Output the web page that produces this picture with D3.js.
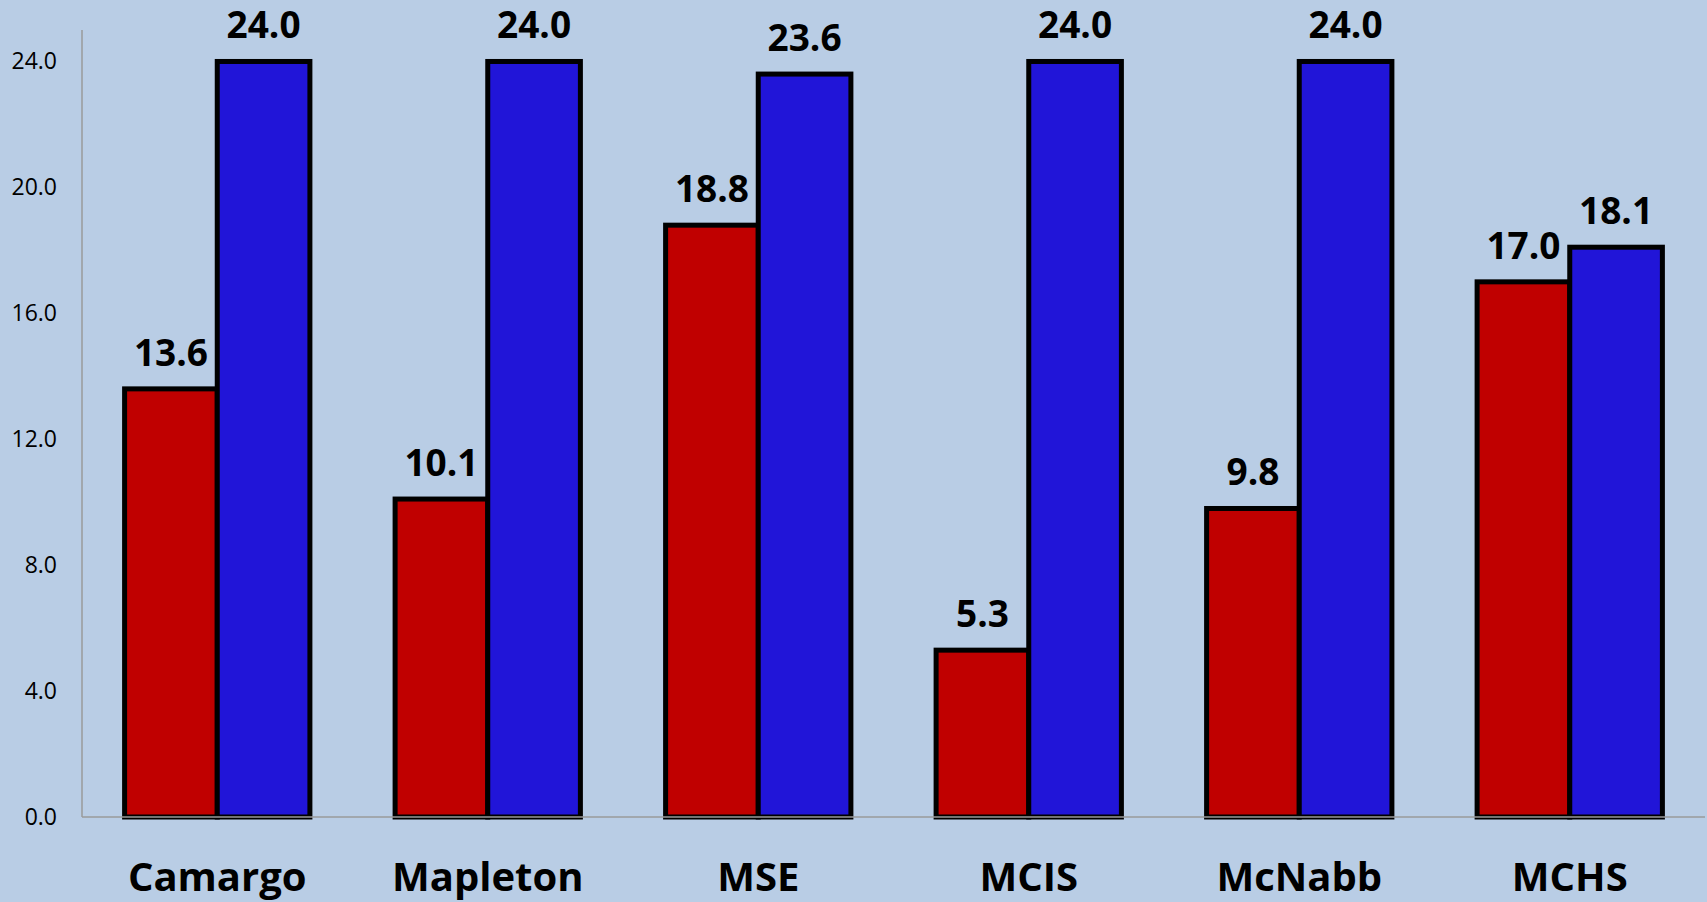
<!DOCTYPE html>
<html>
<head>
    <meta charset="utf-8">
    <title>School comparison</title>
    <style type="text/css">
        body { margin: 0; background: #b9cde5; overflow: hidden; }
        .yaxis path, .yaxis line { display: none; }
        .yaxis text { font-family: "Open Sans", sans-serif; font-size: 23px; fill: #000; }
        .bar { stroke: #000; stroke-width: 5px; }
        .vlabel { font-family: "Open Sans", sans-serif; font-weight: bold; font-size: 37px; text-anchor: middle; }
        .clabel { font-family: "Open Sans", sans-serif; font-weight: bold; font-size: 40px; text-anchor: middle; }
    </style>
</head>
<body>
    <script src="https://d3js.org/d3.v7.min.js"></script>
    <script>
        // chart data
        var categories = ["Camargo", "Mapleton", "MSE", "MCIS", "McNabb", "MCHS"];
        var redValues  = [13.6, 10.1, 18.8, 5.3, 9.8, 17.0];
        var blueValues = [24.0, 24.0, 23.6, 24.0, 24.0, 18.1];
        var yTicks     = [0, 4, 8, 12, 16, 20, 24];

        var series = [
            {key: "red",  color: "#c00000", values: redValues},
            {key: "blue", color: "#2115d8", values: blueValues}
        ];

        var W = 1707, H = 902;
        var plotLeft = 82, plotRight = 1705, plotBottom = 817, plotTop = 30;

        var svg = d3.select("body").append("svg")
            .attr("width", W)
            .attr("height", H);

        svg.append("rect").attr("width", W).attr("height", H).attr("fill", "#b9cde5");

        var x0 = d3.scaleBand().domain(categories).range([plotLeft, plotRight]).padding(0);
        var groupW = x0.bandwidth() * 0.685;
        var x1 = d3.scaleBand().domain(series.map(function(s){ return s.key; })).range([0, groupW]).padding(0);

        var y = d3.scaleLinear().domain([0, 25]).range([plotBottom, plotTop]);

        // y axis labels
        svg.append("g")
            .attr("class", "yaxis")
            .attr("transform", "translate(" + (plotLeft - 25) + ",0)")
            .call(d3.axisLeft(y).tickValues(yTicks).tickFormat(d3.format(".1f")).tickSize(0).tickPadding(0));

        // axis lines
        svg.append("line")
            .attr("x1", plotLeft).attr("x2", plotLeft)
            .attr("y1", y(25)).attr("y2", y(0))
            .attr("stroke", "#9a9a9a").attr("stroke-width", 1.5);

        var groups = svg.selectAll(".grp")
            .data(categories)
            .enter().append("g")
            .attr("class", "grp")
            .attr("transform", function(d){ return "translate(" + (x0(d) + (x0.bandwidth() - groupW) / 2) + ",0)"; });

        series.forEach(function(s){
            groups.append("rect")
                .attr("class", "bar")
                .attr("x", function(d){ return x1(s.key); })
                .attr("y", function(d, i){ return y(s.values[i]); })
                .attr("width", x1.bandwidth())
                .attr("height", function(d, i){ return y(0) - y(s.values[i]); })
                .attr("fill", s.color);
        });

        svg.append("line")
            .attr("x1", plotLeft).attr("x2", plotRight)
            .attr("y1", y(0)).attr("y2", y(0))
            .attr("stroke", "#9a9a9a").attr("stroke-width", 1.5);

        series.forEach(function(s){
            groups.append("text")
                .attr("class", "vlabel")
                .attr("x", function(d){ return x1(s.key) + x1.bandwidth() / 2; })
                .attr("y", function(d, i){ return y(s.values[i]) - 23; })
                .text(function(d, i){ return d3.format(".1f")(s.values[i]); });
        });

        svg.selectAll(".clabel")
            .data(categories)
            .enter().append("text")
            .attr("class", "clabel")
            .attr("x", function(d){ return x0(d) + x0.bandwidth() / 2; })
            .attr("y", 891)
            .text(function(d){ return d; });
    </script>
</body>
</html>
